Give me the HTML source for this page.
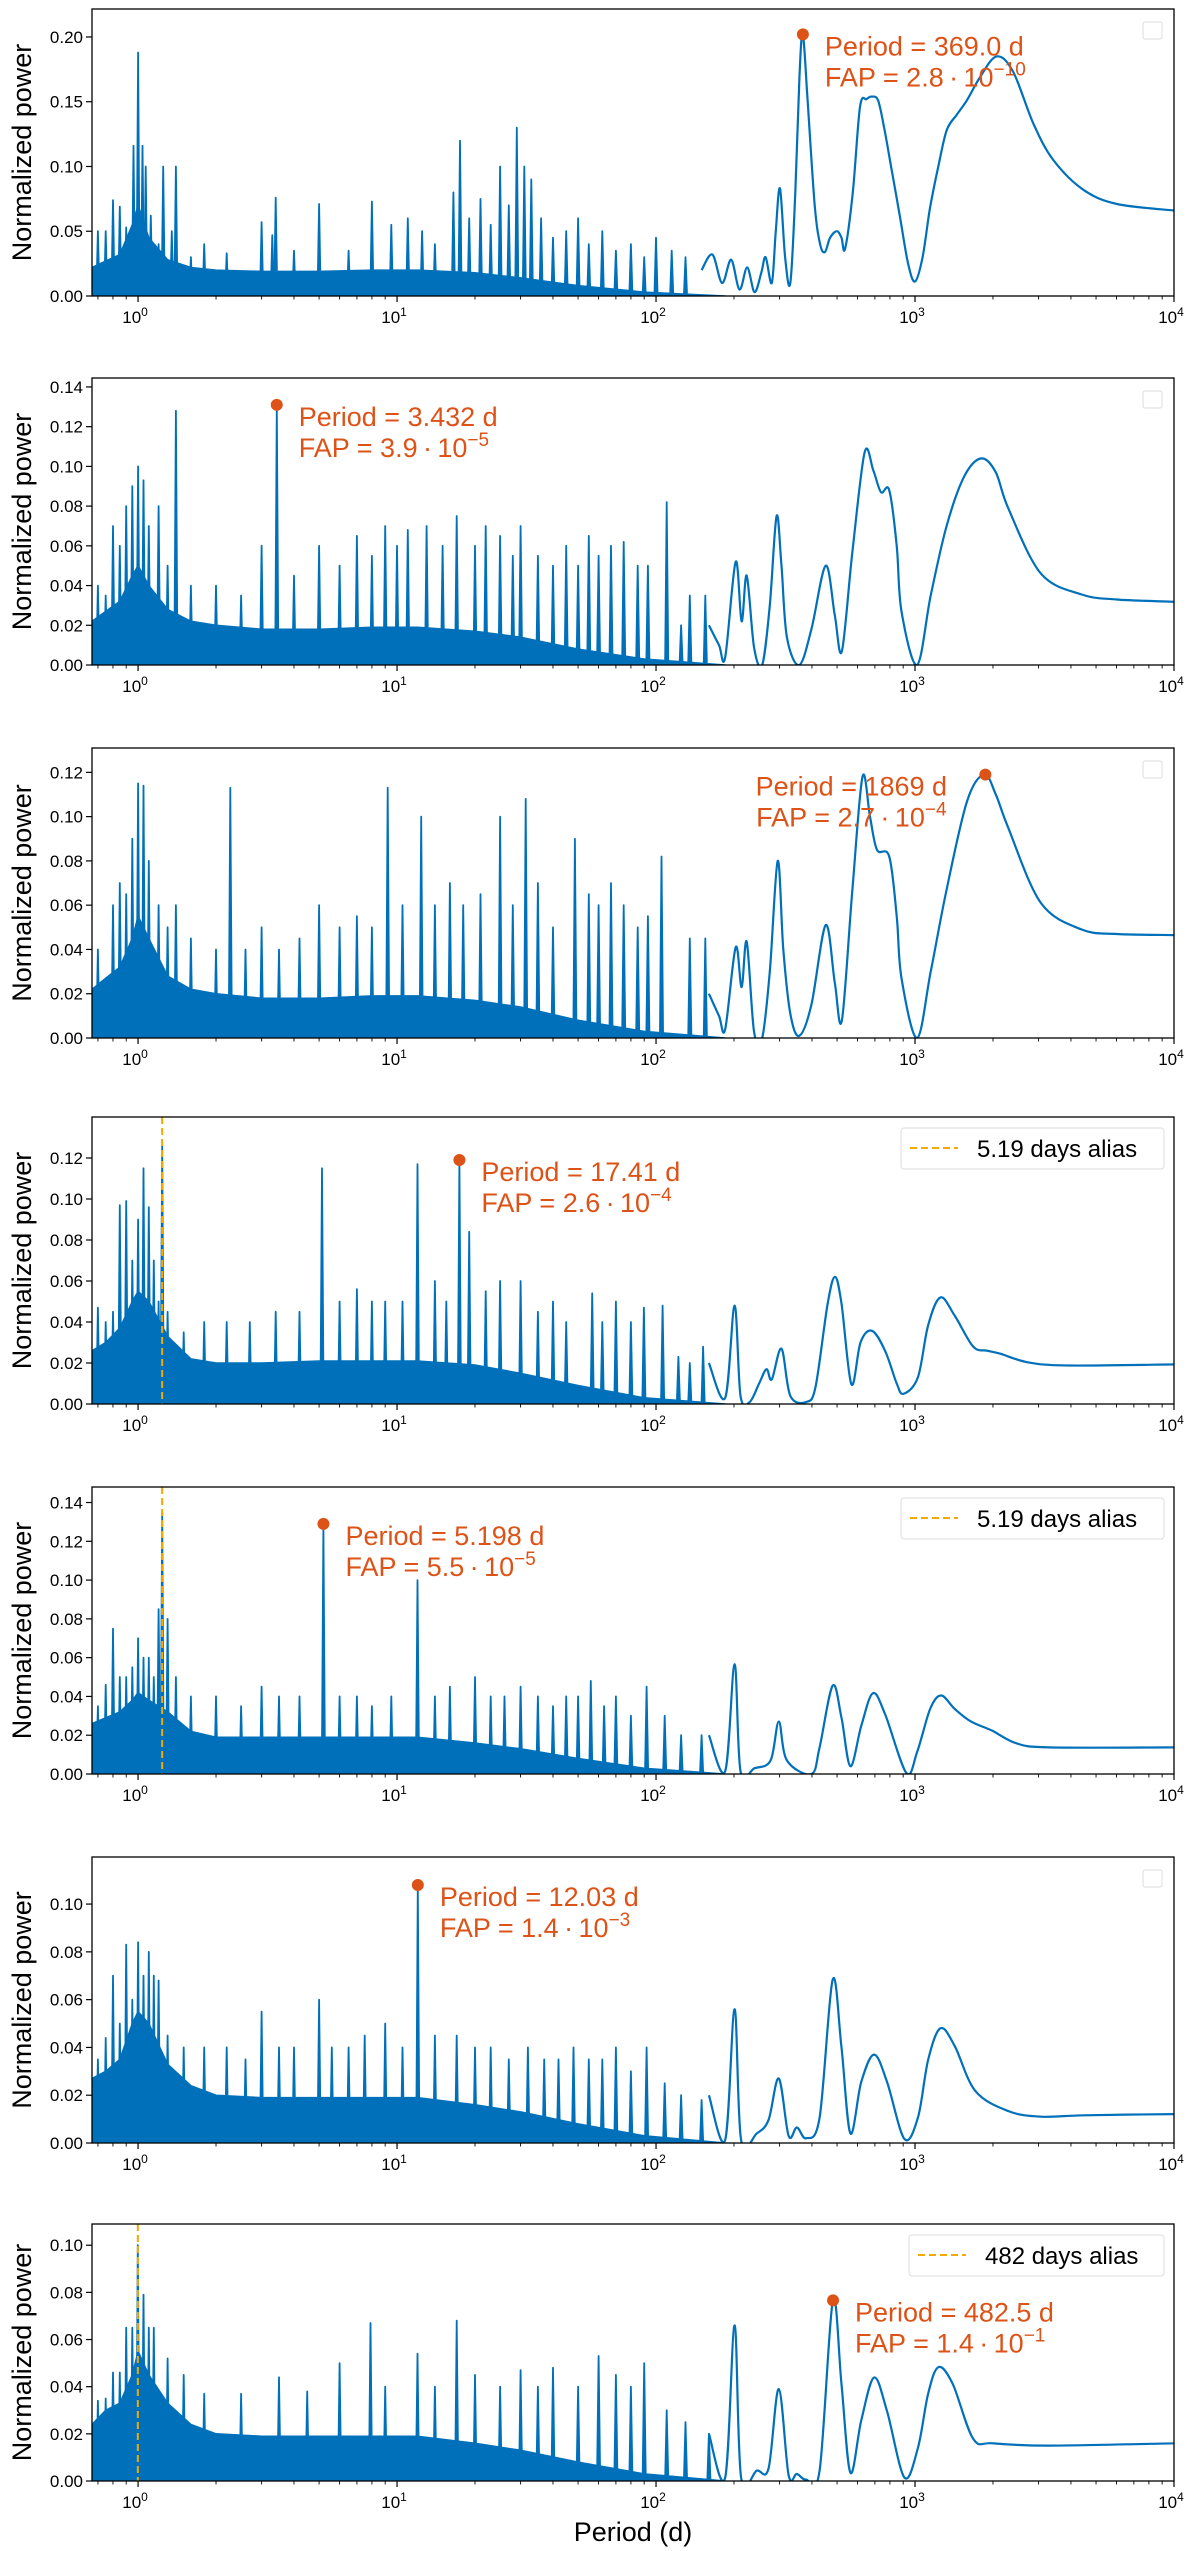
<!DOCTYPE html>
<html><head><meta charset="utf-8"><title>Periodograms</title>
<style>
html,body{margin:0;padding:0;background:#fff;}
svg{display:block;font-family:"Liberation Sans","DejaVu Sans",sans-serif;}
</style></head>
<body>
<svg id="fig" xmlns="http://www.w3.org/2000/svg" width="1200" height="2551" viewBox="0 0 1200 2551"></svg>
<script>
// ---- data (per panel) ----
const floorP = [0.664,0.75,0.85,0.95,1.0,1.1,1.3,1.6,2,3,5,8,12,20,30,50,90,185];
const floor1 = [.022,.027,.032,.055,.07,.045,.028,.022,.02,.019,.019,.02,.02,.018,.014,.008,.003,0];
const floor2 = [.022,.027,.032,.045,.05,.04,.028,.022,.02,.018,.018,.019,.019,.017,.014,.008,.003,0];
const floor3 = [.022,.027,.032,.045,.055,.045,.028,.022,.02,.018,.018,.019,.019,.017,.014,.008,.003,0];
const floor4 = [.026,.03,.037,.05,.055,.05,.033,.022,.02,.02,.021,.021,.021,.019,.015,.009,.003,0];
const floor5 = [.026,.029,.032,.038,.042,.038,.032,.022,.019,.019,.019,.019,.019,.016,.013,.008,.003,0];
const floor6 = [.027,.03,.035,.05,.055,.05,.033,.024,.02,.019,.019,.019,.019,.016,.013,.008,.003,0];
const floor7 = [.024,.03,.033,.045,.055,.045,.033,.024,.02,.019,.019,.019,.019,.016,.013,.008,.003,0];

const spk1P = [0.7,0.75,0.8,0.85,0.9,0.96,1.0,1.04,1.07,1.12,1.2,1.25,1.35,1.4,1.6,1.8,2.2,3.0,3.3,3.4,4.0,5.0,6.5,8.0,9.5,11,12.5,14,16.5,17.5,19,21,23,25,27,29,31,33,36,40,45,50,55,62,70,80,90,100,115,130];
const spk1V = [.05,.05,.074,.069,.053,.116,.188,.116,.10,.062,.04,.10,.05,.10,.03,.04,.033,.057,.047,.076,.035,.071,.035,.073,.055,.06,.05,.04,.08,.12,.06,.075,.055,.10,.07,.13,.10,.09,.06,.045,.05,.06,.04,.05,.035,.04,.03,.045,.035,.03];
const spk2P = [0.7,0.75,0.8,0.85,0.9,0.95,1.0,1.05,1.1,1.2,1.3,1.4,1.6,2.0,2.5,3.0,3.432,4,5,6,7,8,9,10,11,13,15,17,20,22,25,28,30,35,40,45,50,55,60,67,75,85,93,110,125,135,155];
const spk2V = [.04,.035,.07,.06,.08,.09,.10,.093,.07,.08,.05,.128,.04,.04,.035,.06,.131,.045,.06,.05,.065,.055,.07,.06,.068,.07,.06,.075,.06,.07,.065,.055,.07,.055,.05,.06,.05,.065,.055,.06,.062,.05,.05,.082,.02,.035,.035];
const spk3P = [0.7,0.8,0.85,0.9,0.95,1.0,1.05,1.1,1.2,1.3,1.4,1.6,2.0,2.27,2.6,3.0,3.5,4.2,5,6,7,8,9.2,10.5,12.4,14,16,18,21,25,28,31.4,35,40,48.6,55,60,67,75,85,93,105,135,155];
const spk3V = [.04,.06,.07,.065,.09,.115,.114,.08,.06,.05,.06,.045,.04,.113,.04,.05,.04,.045,.06,.05,.055,.05,.113,.06,.10,.06,.07,.06,.065,.10,.06,.108,.07,.05,.09,.065,.06,.07,.06,.05,.055,.082,.045,.045];
const spk4P = [0.7,0.75,0.8,0.85,0.9,0.95,1.0,1.05,1.1,1.15,1.2,1.239,1.3,1.5,1.8,2.2,2.7,3.4,4.2,5.13,6,7,8,9,10.5,12,14,15.5,17.41,19,22,25,30,35,40,45,56.7,62,70,80,89.8,106,122,135,152];
const spk4V = [.047,.04,.045,.097,.099,.07,.09,.115,.096,.07,.05,.126,.045,.035,.04,.04,.04,.045,.045,.115,.05,.056,.05,.05,.05,.117,.06,.05,.119,.084,.055,.06,.06,.045,.05,.04,.054,.04,.05,.04,.047,.048,.023,.02,.028];
const spk5P = [0.7,0.75,0.8,0.85,0.9,0.95,1.0,1.05,1.1,1.15,1.2,1.239,1.3,1.4,1.6,2.0,2.5,3.0,3.5,4.2,5.198,6,7,8,9.5,12,14,16,20,23,26,30,35,40,45,50,56,63,70,80,92,108,125,150];
const spk5V = [.035,.046,.075,.05,.05,.055,.07,.06,.06,.05,.085,.135,.08,.05,.04,.04,.035,.045,.04,.04,.129,.04,.04,.035,.04,.10,.04,.045,.05,.04,.04,.045,.04,.035,.04,.04,.048,.035,.04,.03,.045,.03,.02,.02];
const spk6P = [0.7,0.75,0.8,0.85,0.9,0.95,1.0,1.05,1.1,1.15,1.2,1.3,1.5,1.8,2.2,2.6,3,3.5,4,5,5.6,6.5,7.5,9,10.5,12.03,14,17,20,23,27,32,37,42,48,55,62,70,80,92,108,125,150];
const spk6V = [.035,.044,.07,.05,.083,.06,.084,.07,.08,.07,.068,.045,.04,.04,.04,.035,.055,.04,.04,.06,.04,.04,.045,.05,.04,.108,.045,.045,.04,.04,.035,.04,.035,.035,.04,.035,.035,.04,.03,.04,.025,.02,.018];
const spk7P = [0.7,0.75,0.8,0.85,0.9,0.95,0.998,1.05,1.1,1.15,1.3,1.5,1.8,2.5,3.5,4.5,6,7.9,9,12,14,17,20,25,30,35,40,50,60,70,80,90,110,130,160];
const spk7V = [.034,.035,.046,.046,.065,.065,.10,.079,.065,.065,.052,.045,.037,.037,.044,.038,.05,.067,.04,.054,.04,.068,.045,.04,.047,.04,.048,.04,.053,.045,.04,.05,.03,.025,.02];

const crv1P = [150,165,180,195,210,225,240,255,265,280,290,301,315,330,345,358,369,385,410,430,449,470,499,520,537,575,613,650,681,720,760,800,875,940,1000,1070,1143,1230,1325,1450,1585,1783,2066,2394,2866,3420,4470,6030,10000];
const crv1V = [.02,.032,.01,.028,.005,.022,.003,.018,.03,.01,.05,.083,.03,.01,.08,.17,.202,.15,.07,.04,.034,.045,.05,.045,.0365,.08,.146,.152,.154,.151,.13,.105,.061,.025,.0112,.03,.068,.10,.128,.14,.151,.169,.185,.173,.133,.105,.082,.071,.066];
const crv2P = [160,175,185,203,214,224,239,257,275,292,305,320,357,398,452,490,522,573,639,690,739,795,850,887,1018,1150,1324,1550,1803,2050,2290,3063,4400,6000,10000];
const crv2V = [.02,.01,.004,.052,.022,.045,.009,0,.03,.075,.05,.014,0,.018,.050,.025,.007,.057,.107,.098,.087,.088,.06,.027,0,.035,.070,.095,.104,.097,.079,.046,.0355,.033,.0318];
const crv3P = [160,175,185,203,214,224,239,257,275,295,310,330,357,398,452,490,522,573,627,670,713,795,850,887,1018,1150,1324,1589,1850,2050,2290,3063,4400,6000,10000];
const crv3V = [.02,.01,.004,.041,.023,.0435,.003,0,.03,.080,.04,.011,.001,.015,.051,.025,.008,.067,.118,.10,.085,.082,.055,.027,0,.03,.067,.107,.119,.11,.095,.061,.049,.047,.0465];
const crv4P = [160,185,201,212,230,250,267,280,305,330,380,413,460,491,520,568,616,682,766,850,903,1026,1124,1254,1424,1677,1900,2126,2741,3946,10000];
const crv4V = [.02,.003,.048,.004,.001,.01,.017,.012,.027,.004,.001,.0085,.049,.062,.049,.0096,.030,.0357,.026,.01,.005,.013,.0385,.052,.043,.028,.026,.0246,.0203,.0188,.0193];
const crv5P = [160,185,201,212,240,277,298,320,398,428,481,520,563,620,687,766,926,1020,1144,1262,1424,1647,1976,2457,3290,10000];
const crv5V = [.02,.0015,.0566,.0015,.003,.007,.027,.007,0,.0137,.0456,.029,.004,.0247,.0416,.031,.0005,.0115,.0335,.0405,.0335,.027,.0225,.0159,.0137,.0137];
const crv6P = [160,185,201,213,245,272,298,325,350,380,428,481,520,563,620,695,780,910,1026,1124,1254,1424,1709,2287,3061,4500,10000];
const crv6V = [.02,.0013,.056,.0013,.004,.0097,.027,.003,.0065,.002,.0106,.0684,.040,.004,.0255,.037,.0255,.0017,.0106,.0349,.048,.0405,.0218,.0134,.011,.0116,.0121];
const crv7P = [160,185,201,213,245,272,298,325,350,380,428,482,520,563,620,695,780,910,1026,1124,1232,1400,1677,2000,3290,10000];
const crv7V = [.02,.0015,.066,.0015,.0044,.0054,.039,.0025,.003,.0006,.0044,.0766,.041,.0035,.0256,.0439,.0295,.0015,.014,.0371,.0483,.041,.0179,.016,.015,.016];

const yMaxes = [0.2216,0.1445,0.131,0.140,0.148,0.1197,0.109];
const yTickStep = [0.05,0.02,0.02,0.02,0.02,0.02,0.02];
const yTickMax = [0.20,0.14,0.12,0.12,0.14,0.10,0.10];
const xTickExp = [0,1,2,3,4];
const peakPeriods = [369.0,3.432,1869,17.41,5.198,12.03,482.5];
const peakPowers = [0.202,0.131,0.119,0.119,0.129,0.108,0.0766];
const peakLabels = ["Period = 369.0 d","Period = 3.432 d","Period = 1869 d","Period = 17.41 d","Period = 5.198 d","Period = 12.03 d","Period = 482.5 d"];
const fapMantissa = ["2.8","3.9","2.7","2.6","5.5","1.4","1.4"];
const fapExponent = ["\u221210","\u22125","\u22124","\u22124","\u22125","\u22123","\u22121"];
const aliasPeriods = [null,null,null,1.239,1.239,null,0.998];
const aliasLabels = [null,null,null,"5.19 days alias","5.19 days alias",null,"482 days alias"];

const floors=[floor1,floor2,floor3,floor4,floor5,floor6,floor7];
const spkP=[spk1P,spk2P,spk3P,spk4P,spk5P,spk6P,spk7P];
const spkV=[spk1V,spk2V,spk3V,spk4V,spk5V,spk6V,spk7V];
const crvP=[crv1P,crv2P,crv3P,crv4P,crv5P,crv6P,crv7P];
const crvV=[crv1V,crv2V,crv3V,crv4V,crv5V,crv6V,crv7V];

// ---- layout ----
const L=92, R=1174, xMin=0.664, xMax=10000;
const tops=[9,378,748,1117,1487,1857,2224];
const bots=[296,665,1038,1404,1774,2143,2481];
const BLUE="#0070bb", ORANGE="#dd5217", ALIAS="#f2a900";
const NS="http://www.w3.org/2000/svg";
const svg=document.getElementById('fig');
function mk(tag,attrs,parent){const e=document.createElementNS(NS,tag);for(const k in attrs)e.setAttribute(k,attrs[k]);(parent||svg).appendChild(e);return e;}
function xs(p){return L+(R-L)*(Math.log10(p)-Math.log10(xMin))/(Math.log10(xMax)-Math.log10(xMin));}

function smoothPath(pts){
  let d="M"+pts[0][0].toFixed(1)+","+pts[0][1].toFixed(1);
  for(let i=0;i<pts.length-1;i++){
    const p0=pts[Math.max(0,i-1)],p1=pts[i],p2=pts[i+1],p3=pts[Math.min(pts.length-1,i+2)];
    const c1x=p1[0]+(p2[0]-p0[0])/6,c1y=p1[1]+(p2[1]-p0[1])/6;
    const c2x=p2[0]-(p3[0]-p1[0])/6,c2y=p2[1]-(p3[1]-p1[1])/6;
    d+=" C"+c1x.toFixed(1)+","+c1y.toFixed(1)+" "+c2x.toFixed(1)+","+c2y.toFixed(1)+" "+p2[0].toFixed(1)+","+p2[1].toFixed(1);
  }
  return d;
}

for(let i=0;i<7;i++){
  const top=tops[i],bot=bots[i],ymax=yMaxes[i];
  const ys=v=>bot-(bot-top)*Math.min(v,ymax)/ymax;
  const g=mk('g',{});
  
  
  const clipId='clip'+i;
  const cp=mk('clipPath',{id:clipId},g);
  mk('rect',{x:L,y:top,width:R-L,height:bot-top},cp);
  const plot=mk('g',{'clip-path':'url(#'+clipId+')'},g);
  
  
  // floor fill
  let fd="M"+xs(floorP[0])+","+bot;
  floorP.forEach((p,k)=>{fd+=" L"+xs(p).toFixed(1)+","+ys(floors[i][k]).toFixed(1);});
  fd+=" L"+xs(floorP[floorP.length-1])+","+bot+" Z";
  const fl=mk('path',{d:fd,fill:BLUE,stroke:BLUE,'stroke-width':1.5},plot);
  
  
  // spikes
  spkP[i].forEach((p,k)=>{
    const x=xs(p),y=ys(spkV[i][k]);
    const s=mk('path',{d:"M"+(x-1.6).toFixed(1)+","+bot+" L"+x.toFixed(1)+","+y.toFixed(1)+" L"+(x+1.6).toFixed(1)+","+bot,fill:BLUE,stroke:BLUE,'stroke-width':1.8,'stroke-linejoin':'round'},plot);
    
    
  });
  // long period curve
  const pts=crvP[i].map((p,k)=>[xs(p),ys(crvV[i][k])]);
  const c=mk('path',{d:smoothPath(pts),fill:'none',stroke:BLUE,'stroke-width':2.2},plot);
  
  
  // alias line
  if(aliasPeriods[i]!==null){
    const ax=xs(aliasPeriods[i]);
    const al=mk('line',{x1:ax,x2:ax,y1:top,y2:bot,stroke:ALIAS,'stroke-width':2,'stroke-dasharray':'7,4'},plot);
    
    
  }
  // peak dot
  const dx=xs(peakPeriods[i]),dy=ys(peakPowers[i]);
  const dot=mk('circle',{cx:dx,cy:dy,r:6,fill:ORANGE},g);
  
  
  // annotation
  let tx=dx+22, anchor='start';
  if(i===2){tx=dx-134;anchor='middle';}
  const t1=mk('text',{x:tx,y:dy+21,'font-size':27,fill:ORANGE,'text-anchor':anchor},g);
  t1.textContent=peakLabels[i];
  
  
  const t2=mk('text',{x:tx,y:dy+52,'font-size':27,fill:ORANGE,'text-anchor':anchor},g);
  
  
  t2.appendChild(document.createTextNode("FAP = "+fapMantissa[i]+"\u2009\u00b7\u200910"));
  const sup=mk('tspan',{dy:-11,'font-size':19},t2);
  sup.textContent=fapExponent[i];
  // frame
  const fr=mk('rect',{x:L,y:top,width:R-L,height:bot-top,fill:'none',stroke:'#000','stroke-width':1.3},g);
  
  
  // y ticks
  const nT=Math.round(yTickMax[i]/yTickStep[i]);
  for(let k=0;k<=nT;k++){
    const v=k*yTickStep[i],y=ys(v);
    const tk=mk('line',{x1:L-6,x2:L,y1:y,y2:y,stroke:'#000','stroke-width':1.2},g);
    
    
    const tl=mk('text',{x:L-9,y:y+6,'font-size':17,'text-anchor':'end',fill:'#000'},g);
    tl.textContent=v.toFixed(2);
    
    
  }
  // x ticks
  for(let e=-1;e<=3;e++){
    for(let m=1;m<10;m++){
      const p=m*Math.pow(10,e);
      if(p<xMin||p>xMax)continue;
      const x=xs(p);
      const mt=mk('line',{x1:x,x2:x,y1:bot,y2:bot+(m===1?6:3.5),stroke:'#000','stroke-width':m===1?1.2:0.9},g);
      
      
    }
  }
  xTickExp.forEach(e=>{
    const x=xs(Math.pow(10,e));
    if(e===4){const mt=mk('line',{x1:x,x2:x,y1:bot,y2:bot+6,stroke:'#000','stroke-width':1.2},g);
      
      }
    const xl=mk('text',{x:x-3,y:bot+27,'font-size':17,'text-anchor':'middle',fill:'#000'},g);
    
    
    xl.appendChild(document.createTextNode('10'));
    const s=mk('tspan',{dy:-7,'font-size':12},xl);
    s.textContent=String(e);
  });
  // y label
  const cy=(top+bot)/2;
  const yl=mk('text',{x:31,y:cy,'font-size':27,'text-anchor':'middle',fill:'#000',transform:'rotate(-90 31 '+cy+')'},g);
  yl.textContent='Normalized power';
  
  
  // legend
  if(aliasLabels[i]!==null){
    const lg=mk('g',{},g);
    
    
    const lx=(i===6)?909:901;
    mk('rect',{x:lx,y:top+11,width:1164-lx,height:41,rx:3,fill:'#fff',stroke:'#ddd','stroke-width':1},lg);
    mk('line',{x1:lx+9,x2:lx+57,y1:top+31,y2:top+31,stroke:ALIAS,'stroke-width':2,'stroke-dasharray':'7,4'},lg);
    const lt=mk('text',{x:lx+76,y:top+40,'font-size':24,fill:'#000'},lg);
    lt.textContent=aliasLabels[i];
    
    
  } else {
    const eb=mk('rect',{x:1143,y:top+13,width:19,height:17,rx:2,fill:'#fff',stroke:'#ddd','stroke-width':1},g);
    
    
  }
}
const xt=mk('text',{x:633,y:2541,'font-size':27,'text-anchor':'middle',fill:'#000'});
xt.textContent='Period (d)';


</script>
</body></html>
